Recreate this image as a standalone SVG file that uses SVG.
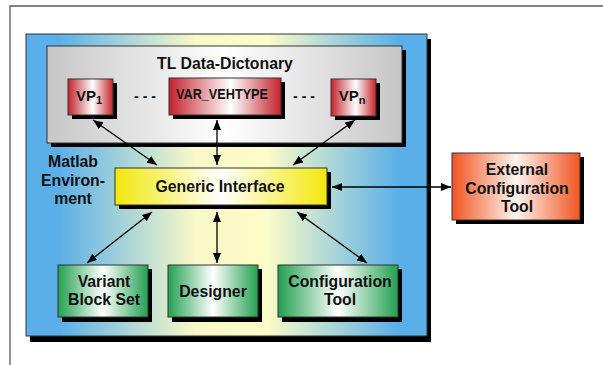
<svg xmlns="http://www.w3.org/2000/svg" width="603" height="365" viewBox="0 0 603 365">
<defs>
<linearGradient id="gBlue" x1="0" y1="0" x2="1" y2="0">
<stop offset="0" stop-color="#5aafe8"/><stop offset="0.08" stop-color="#5aafe8"/><stop offset="0.42" stop-color="#f8f8c8"/><stop offset="0.6" stop-color="#fcfcc8"/><stop offset="0.93" stop-color="#5aafe8"/><stop offset="1" stop-color="#5aafe8"/>
</linearGradient>
<linearGradient id="gGray" x1="0" y1="0" x2="1" y2="0">
<stop offset="0" stop-color="#c6c6c6"/><stop offset="0.5" stop-color="#ffffff"/><stop offset="1" stop-color="#c6c6c6"/>
</linearGradient>
<linearGradient id="gRed" x1="0" y1="0" x2="1" y2="0">
<stop offset="0" stop-color="#c4222b"/><stop offset="0.55" stop-color="#ffffff"/><stop offset="1" stop-color="#c4222b"/>
</linearGradient>
<linearGradient id="gYellow" x1="0" y1="0" x2="1" y2="0">
<stop offset="0" stop-color="#f2e80a"/><stop offset="0.5" stop-color="#ffffff"/><stop offset="1" stop-color="#f2e80a"/>
</linearGradient>
<linearGradient id="gOrange" x1="0" y1="0" x2="1" y2="0">
<stop offset="0" stop-color="#f05522"/><stop offset="0.5" stop-color="#fff4f0"/><stop offset="1" stop-color="#f05522"/>
</linearGradient>
<linearGradient id="gGreen" x1="0" y1="0" x2="1" y2="0">
<stop offset="0" stop-color="#22a050"/><stop offset="0.5" stop-color="#ffffff"/><stop offset="1" stop-color="#22a050"/>
</linearGradient>
<marker id="ah" viewBox="0 0 10 8" refX="10" refY="4" markerWidth="10" markerHeight="8" markerUnits="userSpaceOnUse" orient="auto-start-reverse">
<path d="M0,0 L10,4 L0,8 z" fill="#000"/>
</marker>
</defs>
<style>
.sh{fill:#000}
.bx{stroke:#333;stroke-width:1}
.t{font-family:"Liberation Sans",Arial,sans-serif;font-weight:bold;fill:#111;text-anchor:middle}
.f16{font-size:15.8px}
.f14{font-size:14px}
.f15{font-size:15px}
.conn line{stroke:#000;stroke-width:1.3;marker-start:url(#ah);marker-end:url(#ah)}
</style>
<path d="M10,365 L10,6 L603,6" fill="none" stroke="#5a5a5a" stroke-width="1.3"/>

<g id="matlab-env">
<rect class="sh" x="30" y="39" width="401" height="303"/>
<rect class="bx" x="26" y="34" width="401" height="302" fill="url(#gBlue)"/>
<text class="t f16" x="73" y="167">Matlab</text>
<text class="t f16" x="73" y="186">Environ-</text>
<text class="t f16" x="73" y="204">ment</text>
</g>

<g id="data-dictionary">
<rect class="sh" x="51" y="50" width="355" height="97"/>
<rect class="bx" x="47" y="46" width="355" height="97" fill="url(#gGray)"/>
<text class="t f16" x="225" y="69">TL Data-Dictonary</text>
<text class="t f14" x="145" y="101">- - -</text>
<text class="t f14" x="304" y="101">- - -</text>
</g>

<g id="vp1">
<rect class="sh" x="72" y="83" width="45" height="36"/>
<rect class="bx" x="68" y="79" width="45" height="36" fill="url(#gRed)"/>
<text class="t f15" x="89" y="101">VP<tspan font-size="11" dy="3">1</tspan></text>
</g>

<g id="var-vehtype">
<rect class="sh" x="173" y="82" width="112" height="37"/>
<rect class="bx" x="169" y="78" width="112" height="37" fill="url(#gRed)"/>
<text class="t" font-size="14.5" x="222" y="98.5" textLength="92" lengthAdjust="spacingAndGlyphs">VAR_VEHTYPE</text>
</g>

<g id="vpn">
<rect class="sh" x="335" y="83" width="45" height="37"/>
<rect class="bx" x="331" y="79" width="45" height="37" fill="url(#gRed)"/>
<text class="t f15" x="352" y="101">VP<tspan font-size="11" dy="3">n</tspan></text>
</g>

<g id="generic-interface">
<rect class="sh" x="119" y="172" width="212" height="37"/>
<rect class="bx" x="115" y="168" width="212" height="37" fill="url(#gYellow)"/>
<text class="t f16" x="220" y="192">Generic Interface</text>
</g>

<g id="external-config">
<rect class="sh" x="456" y="157" width="128" height="67"/>
<rect class="bx" x="452" y="153" width="128" height="67" fill="url(#gOrange)"/>
<text class="t f16" x="517" y="175">External</text>
<text class="t f16" x="517" y="193.5">Configuration</text>
<text class="t f16" x="517" y="212">Tool</text>
</g>

<g id="variant-block-set">
<rect class="sh" x="62" y="269" width="90" height="53"/>
<rect class="bx" x="58" y="265" width="90" height="52" fill="url(#gGreen)"/>
<text class="t f16" x="104" y="287">Variant</text>
<text class="t f16" x="104" y="305">Block Set</text>
</g>

<g id="designer">
<rect class="sh" x="172" y="269" width="90" height="53"/>
<rect class="bx" x="168" y="265" width="90" height="52" fill="url(#gGreen)"/>
<text class="t f16" x="213" y="297">Designer</text>
</g>

<g id="configuration-tool">
<rect class="sh" x="282" y="269" width="120" height="53"/>
<rect class="bx" x="278" y="265" width="120" height="52" fill="url(#gGreen)"/>
<text class="t f16" x="340" y="287">Configuration</text>
<text class="t f16" x="340" y="305">Tool</text>
</g>

<g class="conn" id="connectors">
<line x1="93" y1="120" x2="157" y2="165"/>
<line x1="217" y1="120" x2="217" y2="165"/>
<line x1="355" y1="120" x2="293" y2="165"/>
<line x1="152" y1="212" x2="87" y2="263"/>
<line x1="217" y1="212" x2="217" y2="263"/>
<line x1="297" y1="212" x2="367" y2="263"/>
<line x1="332" y1="187" x2="451" y2="187"/>
</g>
</svg>
